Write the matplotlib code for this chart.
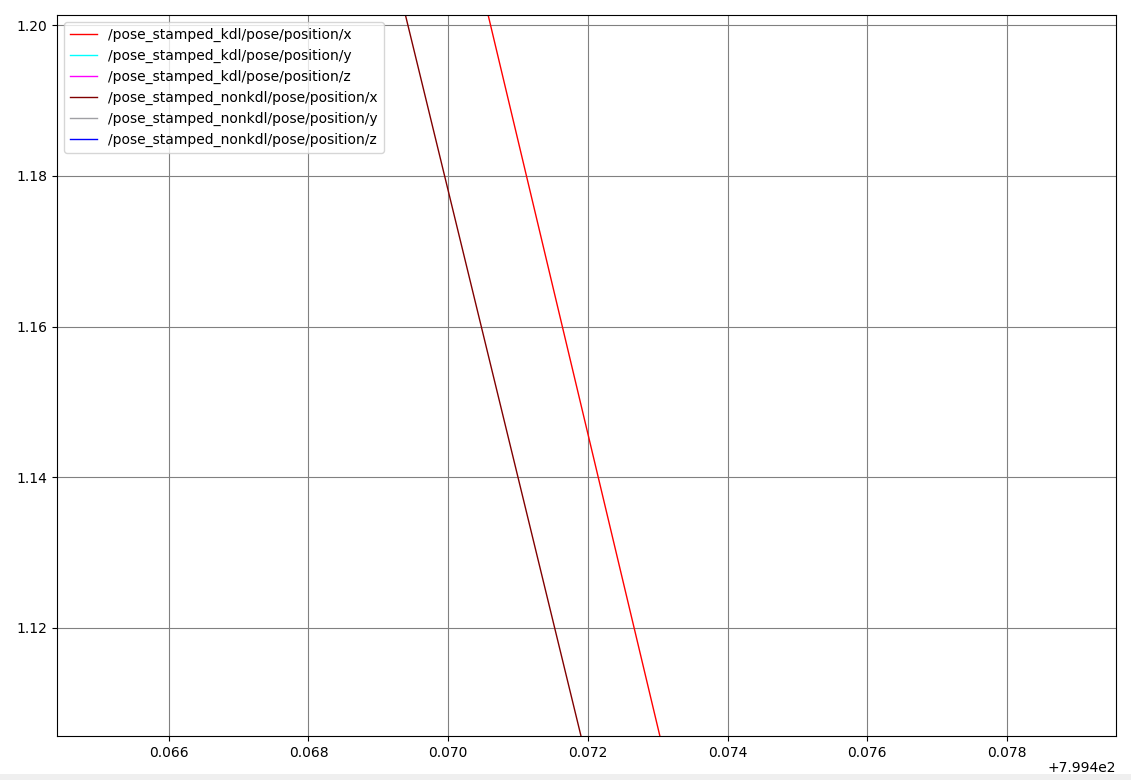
#! /usr/bin/env python3

import matplotlib
matplotlib.use('Agg')
import matplotlib.pyplot as plt
import matplotlib.transforms as mtransforms
from matplotlib.patches import Rectangle

# time stamps (s) and positions
t_kdl_x = [799.470349, 799.473176]
kdl_x = [1.21, 1.10]
t_nonkdl_x = [799.469160, 799.472050]
nonkdl_x = [1.21, 1.10]
# the y / z series lie outside the visible window
t_kdl_y, kdl_y = [], []
t_kdl_z, kdl_z = [], []
t_nonkdl_y, nonkdl_y = [], []
t_nonkdl_z, nonkdl_z = [], []

series = [
    ('/pose_stamped_kdl/pose/position/x', t_kdl_x, kdl_x, 'red'),
    ('/pose_stamped_kdl/pose/position/y', t_kdl_y, kdl_y, 'cyan'),
    ('/pose_stamped_kdl/pose/position/z', t_kdl_z, kdl_z, 'magenta'),
    ('/pose_stamped_nonkdl/pose/position/x', t_nonkdl_x, nonkdl_x, '#800000'),
    ('/pose_stamped_nonkdl/pose/position/y', t_nonkdl_y, nonkdl_y, '#a0a0a4'),
    ('/pose_stamped_nonkdl/pose/position/z', t_nonkdl_z, nonkdl_z, 'blue'),
]

fig = plt.figure(figsize=(11.31, 7.80), dpi=100)
ax = fig.add_axes([57/1131, 1 - 736/780, (1116 - 57)/1131, (736 - 15)/780])

for label, t, v, c in series:
    ax.plot(t, v, color=c, linewidth=1, label=label)

ax.set_xlim(799.46440, 799.47956)
ax.set_ylim(1.10567, 1.20133)
ax.set_xticks([799.466, 799.468, 799.470, 799.472, 799.474, 799.476, 799.478])
ax.set_yticks([1.12, 1.14, 1.16, 1.18, 1.20])
ax.grid(True, color='gray', linestyle='-', linewidth=0.8)
ax.set_axisbelow(True)
ax.legend(loc='upper left', fontsize=10)

# lift the offset text a little so it sits above the window strip
off = ax.xaxis.get_offset_text()
off.set_transform(off.get_transform() +
                  mtransforms.ScaledTranslation(0, 3/100, fig.dpi_scale_trans))

# light grey window strip along the bottom
fig.patches.append(Rectangle((0, 0), 1, 6/780, transform=fig.transFigure,
                             facecolor='#efefef', edgecolor='none', zorder=5))

fig.savefig('out.png', dpi=100)
